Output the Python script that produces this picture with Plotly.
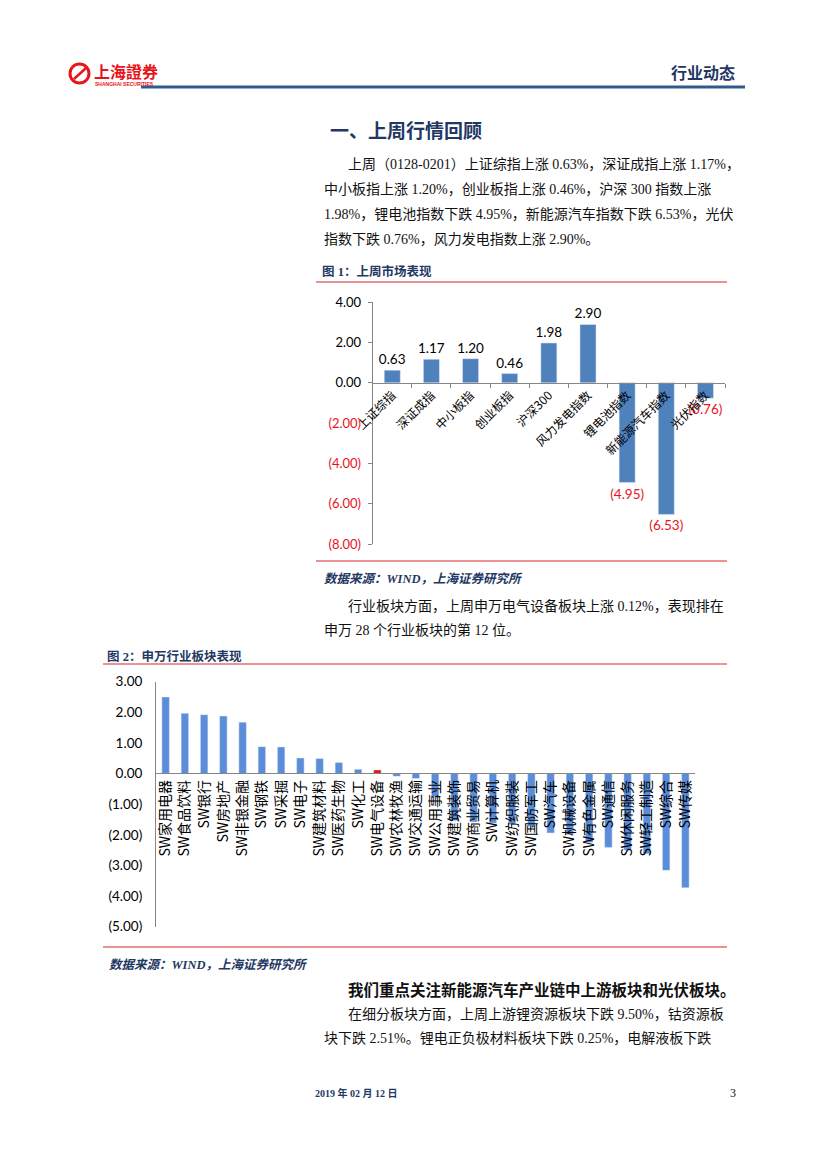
import plotly.graph_objects as go

W, H = 827, 1169
def X(p): return p / W
def Y(p): return 1 - p / H

# ---------- data ----------
c1_categories = ["上证综指", "深证成指", "中小板指", "创业板指", "沪深300",
                 "风力发电指数", "锂电池指数", "新能源汽车指数", "光伏指数"]
c1_values = [0.63, 1.17, 1.20, 0.46, 1.98, 2.90, -4.95, -6.53, -0.76]
c1_ticks = [4, 2, 0, -2, -4, -6, -8]

c2_categories = ["SW家用电器", "SW食品饮料", "SW银行", "SW房地产", "SW非银金融", "SW钢铁",
                 "SW采掘", "SW电子", "SW建筑材料", "SW医药生物", "SW化工", "SW电气设备",
                 "SW农林牧渔", "SW交通运输", "SW公用事业", "SW建筑装饰", "SW商业贸易",
                 "SW计算机", "SW纺织服装", "SW国防军工", "SW汽车", "SW机械设备",
                 "SW有色金属", "SW通信", "SW休闲服务", "SW轻工制造", "SW综合", "SW传媒"]
c2_values = [2.50, 1.97, 1.92, 1.88, 1.68, 0.88, 0.87, 0.51, 0.49, 0.36, 0.14, 0.12,
             -0.09, -0.16, -0.75, -1.54, -1.58, -1.62, -1.66, -1.72, -1.94, -2.00,
             -2.25, -2.41, -2.50, -2.62, -3.16, -3.73]
c2_highlight = "SW电气设备"
c2_ticks = [3, 2, 1, 0, -1, -2, -3, -4, -5]

def fmt(v):
    return f"{v:.2f}" if v >= 0 else f"({-v:.2f})"

RED = "#E8141B"
BLUE1 = "#4F81BD"
BLUE2 = "#5B8DD9"
NAVY = "#1F3864"
AXIS = "#868686"

fig = go.Figure()

# chart 1
fig.add_trace(go.Bar(
    x=c1_categories, y=c1_values, xaxis="x", yaxis="y",
    marker_color=BLUE1, width=0.41,
    text=[fmt(v) for v in c1_values], textposition="outside", textangle=0,
    constraintext="none",
    textfont=dict(family="Lato", size=13.5,
                  color=["#000000" if v >= 0 else RED for v in c1_values]),
    cliponaxis=False, showlegend=False, hoverinfo="skip"))

# chart 2
fig.add_trace(go.Bar(
    x=c2_categories, y=c2_values, xaxis="x2", yaxis="y2",
    marker_color=[RED if c == c2_highlight else BLUE2 for c in c2_categories],
    width=0.39, showlegend=False, hoverinfo="skip"))

c1_ticktext = [fmt(t) if t >= 0 else f'<span style="color:{RED}">{fmt(t)}</span>' for t in c1_ticks]
c2_ticktext = [fmt(t) for t in c2_ticks]

fig.update_layout(
    width=W, height=H, margin=dict(l=0, r=0, t=0, b=0, pad=0, autoexpand=False),
    paper_bgcolor="white", plot_bgcolor="rgba(0,0,0,0)", showlegend=False,
    xaxis=dict(domain=[X(372.7), X(725)], anchor="free", position=Y(382.7),
               showline=True, linecolor=AXIS, linewidth=1, automargin=False,
               ticks="outside", tickson="boundaries", ticklen=4, tickcolor=AXIS,
               tickangle=-45, tickfont=dict(family="Noto Sans CJK SC", size=12, color="#000"),
               showgrid=False, zeroline=False, fixedrange=True),
    yaxis=dict(domain=[Y(544), Y(302.3)], range=[-8, 4], anchor="x", automargin=False,
               tickvals=c1_ticks, ticktext=c1_ticktext,
               showline=True, linecolor=AXIS, linewidth=1,
               ticks="outside", ticklen=4, tickcolor=AXIS,
               tickfont=dict(family="Lato", size=13, color="#000"),
               ticklabelstandoff=4,
               showgrid=False, zeroline=False, fixedrange=True),
    xaxis2=dict(domain=[X(156), X(695)], anchor="free", position=Y(773.3), automargin=False,
                showline=True, linecolor=AXIS, linewidth=1, ticks="",
                tickangle=-90, tickfont=dict(family="Noto Sans CJK SC", size=14, color="#000"),
                showgrid=False, zeroline=False, fixedrange=True),
    yaxis2=dict(domain=[Y(926.7), Y(681.7)], range=[-5, 3], anchor="x2", automargin=False,
                tickvals=c2_ticks, ticktext=c2_ticktext,
                showline=True, linecolor=AXIS, linewidth=1, ticks="",
                tickfont=dict(family="Lato", size=13.5, color="#000"),
                ticklabelstandoff=10,
                showgrid=False, zeroline=False, fixedrange=True),
)

# ---------- page text ----------
ann = []
def txt(x, y, s, size=14, color="#111", family="Liberation Serif, Noto Sans CJK SC",
        anchor="left", bold=False, italic=False):
    if bold:
        s = f"<b>{s}</b>"
    if italic:
        s = f"<i>{s}</i>"
    ann.append(dict(x=X(x), y=Y(y), xref="paper", yref="paper", text=s, showarrow=False,
                    xanchor=anchor, yanchor="middle",
                    font=dict(size=size, color=color, family=family)))

# header
txt(92, 71, "上海證券", size=16, color=RED, family="Noto Sans CJK SC", bold=True)
txt(93, 84, "SHANGHAI SECURITIES", size=5, color=RED, family="Liberation Sans", bold=True)
txt(737, 72, "行业动态", size=16, color=NAVY, family="Noto Sans CJK SC", anchor="right", bold=True)
txt(328, 130, "一、上周行情回顾", size=19, color=NAVY, family="Noto Sans CJK SC", bold=True)

body = [
    (346, 164, "上周（0128-0201）上证综指上涨 0.63%，深证成指上涨 1.17%，"),
    (322, 189, "中小板指上涨 1.20%，创业板指上涨 0.46%，沪深 300 指数上涨"),
    (322, 214, "1.98%，锂电池指数下跌 4.95%，新能源汽车指数下跌 6.53%，光伏"),
    (322, 239, "指数下跌 0.76%，风力发电指数上涨 2.90%。"),
    (346, 606, "行业板块方面，上周申万电气设备板块上涨 0.12%，表现排在"),
    (322, 630, "申万 28 个行业板块的第 12 位。"),
    (346, 1014, "在细分板块方面，上周上游锂资源板块下跌 9.50%，钴资源板"),
    (322, 1038, "块下跌 2.51%。锂电正负极材料板块下跌 0.25%，电解液板下跌"),
]
for x, y, s in body:
    txt(x, y, s, size=14)
txt(346, 990, "我们重点关注新能源汽车产业链中上游板块和光伏板块。", size=15.5, bold=True)

txt(320, 271, "图 1：上周市场表现", size=12.5, color=NAVY, bold=True)
txt(322, 579, "数据来源：WIND，上海证券研究所", size=12.5, color=NAVY, bold=True, italic=True)
txt(105, 656, "图 2：申万行业板块表现", size=12.5, color=NAVY, bold=True)
txt(107, 965, "数据来源：WIND，上海证券研究所", size=12.5, color=NAVY, bold=True, italic=True)

txt(313, 1093, "2019 年 02 月 12 日", size=10, color=NAVY, bold=True)
txt(738, 1093, "3", size=12, color="#111", anchor="right")

fig.update_layout(annotations=ann)

# ---------- shapes ----------
shapes = []
def hline(x0, x1, y, color, width):
    shapes.append(dict(type="line", xref="paper", yref="paper",
                       x0=X(x0), x1=X(x1), y0=Y(y), y1=Y(y),
                       line=dict(color=color, width=width)))
hline(141, 745, 87, "#2E5A8C", 3)
hline(316, 727, 282, "#E46E70", 1.5)
hline(316, 727, 561, "#E46E70", 1.5)
hline(103, 727, 664, "#E46E70", 1.5)
hline(103, 727, 947, "#E46E70", 1.5)
# logo emblem
shapes.append(dict(type="circle", xref="paper", yref="paper",
                   x0=X(70), x1=X(89), y0=Y(83), y1=Y(64),
                   line=dict(color=RED, width=3)))
shapes.append(dict(type="line", xref="paper", yref="paper",
                   x0=X(74), x1=X(86), y0=Y(79), y1=Y(68),
                   line=dict(color=RED, width=2.5)))
fig.update_layout(shapes=shapes)

fig.write_html("out.html", config={"displayModeBar": False},
               post_script="document.body.style.margin='0px';")
